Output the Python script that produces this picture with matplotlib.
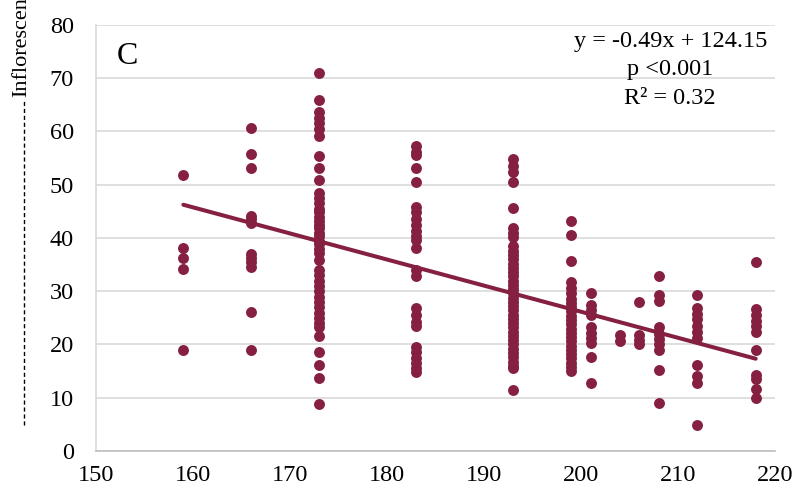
import numpy as np
import matplotlib.pyplot as plt
from matplotlib.lines import Line2D

# Inflorescence measurements grouped by x value
x_levels = [159, 166, 173, 183, 193, 199, 201, 204, 206, 208, 212, 218]

y_159 = [51.8, 38.1, 36.2, 34.2, 19.0]
y_166 = [60.6, 55.8, 53.1, 44.2, 43.5, 42.8, 37.0, 36.2, 35.5, 34.6, 26.1, 19.0]
y_173 = [70.9, 65.9, 63.7, 62.5, 61.5, 60.5, 59.2, 55.3, 53.1, 50.8,
         48.4, 47.5, 46.5, 45.5, 44.8, 44.0, 43.2, 42.5, 41.8, 41.0, 40.3,
         39.5, 38.8, 38.0, 37.2, 35.9, 34.0, 33.0, 32.0, 31.0, 30.0, 29.0,
         28.0, 27.0, 26.0, 25.0, 24.0, 23.3, 21.5, 18.6, 16.2, 13.7, 8.9]
y_183 = [57.2, 56.2, 55.5, 53.1, 50.6, 45.9, 44.8, 43.6, 42.5, 41.4, 40.4,
         39.6, 38.1, 34.0, 32.9, 26.8, 25.5, 24.3, 23.5, 19.6, 18.5, 17.5,
         16.5, 15.5, 14.8]
y_193 = [54.8, 53.5, 52.3, 50.6, 45.6, 41.9, 41.0, 40.2, 38.4, 37.6, 36.8,
         36.0, 35.2, 34.4, 33.6, 32.8, 32.0, 31.2, 30.4, 29.6, 28.8, 28.0,
         27.2, 26.4, 25.6, 24.8, 24.0, 23.2, 22.4, 21.6, 20.8, 20.0, 19.2,
         18.4, 17.6, 16.8, 16.0, 15.5, 11.5]
y_199 = [43.1, 40.6, 35.6, 31.8, 30.6, 29.6, 28.6, 27.8, 27.0, 26.2, 25.4,
         24.6, 23.8, 23.0, 22.2, 21.4, 20.6, 19.8, 19.0, 18.2, 17.4, 16.6,
         15.8, 15.0]
y_201 = [29.6, 27.4, 26.5, 25.5, 23.3, 22.2, 21.2, 20.3, 17.7, 12.7]
y_204 = [21.8, 20.6]
y_206 = [28.0, 21.8, 20.8, 20.0]
y_208 = [32.9, 29.3, 28.2, 23.3, 22.0, 21.0, 20.0, 19.0, 15.2, 9.0]
y_212 = [29.3, 26.9, 25.8, 24.7, 23.5, 22.4, 21.3, 16.2, 14.0, 12.7, 4.9]
y_218 = [35.5, 26.7, 25.6, 24.5, 23.4, 22.3, 19.0, 14.3, 13.6, 11.6, 10.0]

groups = [y_159, y_166, y_173, y_183, y_193, y_199, y_201, y_204,
          y_206, y_208, y_212, y_218]

slope = -0.49
intercept = 124.15

x_ticks = [150, 160, 170, 180, 190, 200, 210, 220]
y_ticks = [0, 10, 20, 30, 40, 50, 60, 70, 80]

color = '#862041'
serif = 'Liberation Serif'

xs = np.concatenate([[x] * len(g) for x, g in zip(x_levels, groups)])
ys = np.concatenate(groups)

fig = plt.figure(figsize=(7.97, 4.99), dpi=100)
ax = fig.add_axes([0.1205, 0.0962, 0.852, 0.8538])

ax.scatter(xs, ys, s=62, color=color, zorder=3, linewidths=0)

# Fitted trend line over the range of the data
line_x = np.array([min(x_levels), max(x_levels)])
ax.plot(line_x, slope * line_x + intercept, color=color, lw=2.9, zorder=4,
        solid_capstyle='round')

ax.set_xlim(150, 220)
ax.set_ylim(0, 80)
ax.set_xticks(x_ticks)
ax.set_yticks(y_ticks)
ax.tick_params(length=0, labelsize=17.5)
ax.tick_params(axis='x', pad=10)
ax.tick_params(axis='y', pad=16)
for lbl in ax.get_xticklabels() + ax.get_yticklabels():
    lbl.set_family(serif)

ax.grid(axis='y', color='#d9d9d9', lw=1.2)
ax.set_axisbelow(True)
for side in ['top', 'right']:
    ax.spines[side].set_visible(False)
ax.spines['left'].set_color('#d9d9d9')
ax.spines['bottom'].set_color('#bfbfbf')
ax.spines['left'].set_linewidth(1.2)
ax.spines['bottom'].set_linewidth(1.2)

ax.text(0.031, 0.927, 'C', transform=ax.transAxes, fontsize=23,
        family=serif, va='center', ha='left')

eq_lines = ['y = -0.49x + 124.15', 'p <0.001', 'R² = 0.32']
eq_y = [0.916, 0.860, 0.802]
for t, yy in zip(eq_lines, eq_y):
    fig.text(0.841, yy, t, fontsize=17.5, family=serif,
             ha='center', va='center')

# Clipped y-axis label with its leader line
fig.text(0.027, 0.806, 'Inflorescen', rotation=90, fontsize=16,
         family=serif, ha='center', va='bottom')
fig.add_artist(Line2D([0.0300, 0.0300], [0.148, 0.800],
                      transform=fig.transFigure, color='black', lw=1.0,
                      linestyle=(0, (3, 2))))

fig.savefig('out.png', dpi=100)
